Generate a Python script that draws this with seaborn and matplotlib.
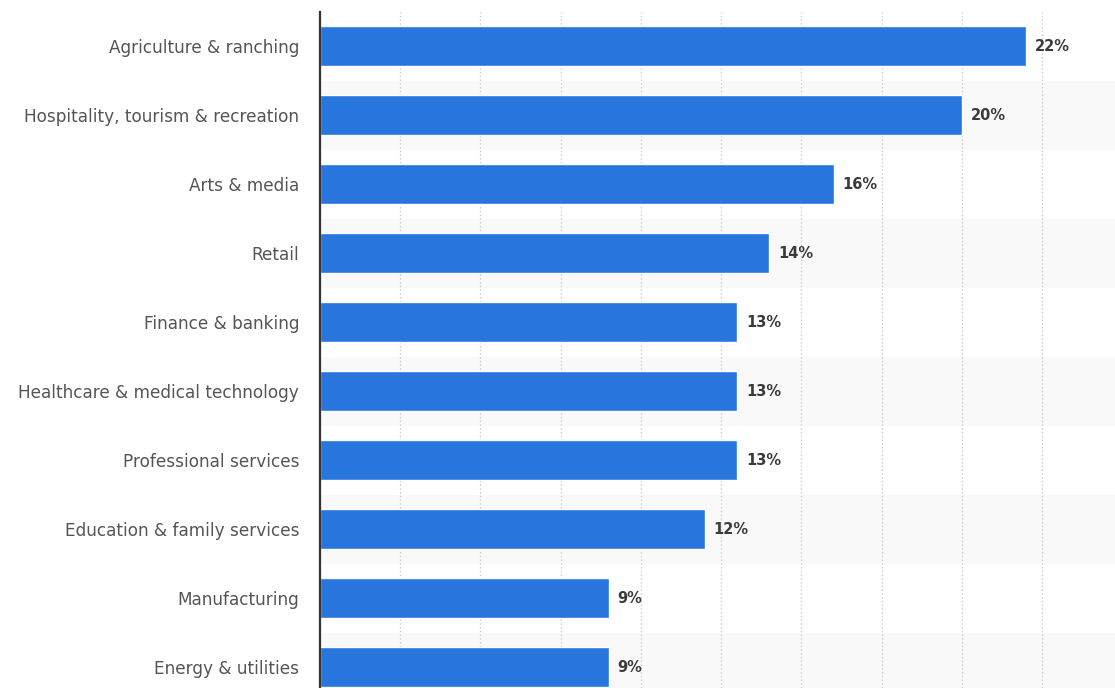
import matplotlib
matplotlib.use("Agg")
import matplotlib.pyplot as plt
import seaborn as sns
import pandas as pd

categories = [
    "Agriculture & ranching",
    "Hospitality, tourism & recreation",
    "Arts & media",
    "Retail",
    "Finance & banking",
    "Healthcare & medical technology",
    "Professional services",
    "Education & family services",
    "Manufacturing",
    "Energy & utilities",
]
values = [22, 20, 16, 14, 13, 13, 13, 12, 9, 9]
value_labels = ["22%", "20%", "16%", "14%", "13%", "13%", "13%", "12%", "9%", "9%"]

df = pd.DataFrame({"category": categories, "value": values})

sns.set_theme(style="white")
plt.rcParams["font.family"] = ["DejaVu Sans"]

fig = plt.figure(figsize=(11.15, 6.88), dpi=100)
ax = fig.add_axes([320 / 1115, 0.0, 1 - 320 / 1115, 1 - 11.5 / 688])

# alternating row bands
for i in range(len(categories)):
    if i % 2 == 1:
        ax.axhspan(i - 0.5, i + 0.5, color="#f9f9f9", zorder=0, lw=0)

sns.barplot(data=df, y="category", x="value", orient="h", color="#2876dd",
            saturation=1, width=0.58, ax=ax, zorder=3)

ax.set_xlim(0, 24.77)
ax.set_ylim(9.3, -0.5)

for g in [2.5 * k for k in range(1, 10)]:
    ax.axvline(g, color="#cccccc", lw=0.9, ls=(0, (1.2, 1.8)), zorder=1)

for i, (v, lab) in enumerate(zip(values, value_labels)):
    ax.text(v + 0.27, i, lab, va="center", ha="left", fontsize=10.5,
            color="#3a3a3a", fontweight="bold", zorder=4)

ax.set_xlabel("")
ax.set_ylabel("")
ax.set_xticks([])
ax.tick_params(axis="y", length=0, pad=15, labelsize=12.2, labelcolor="#555555")
for s in ["top", "right", "bottom"]:
    ax.spines[s].set_visible(False)
ax.spines["left"].set_color("#333333")
ax.spines["left"].set_linewidth(1.6)
ax.spines["left"].set_zorder(5)

fig.savefig("out.png", dpi=100)
